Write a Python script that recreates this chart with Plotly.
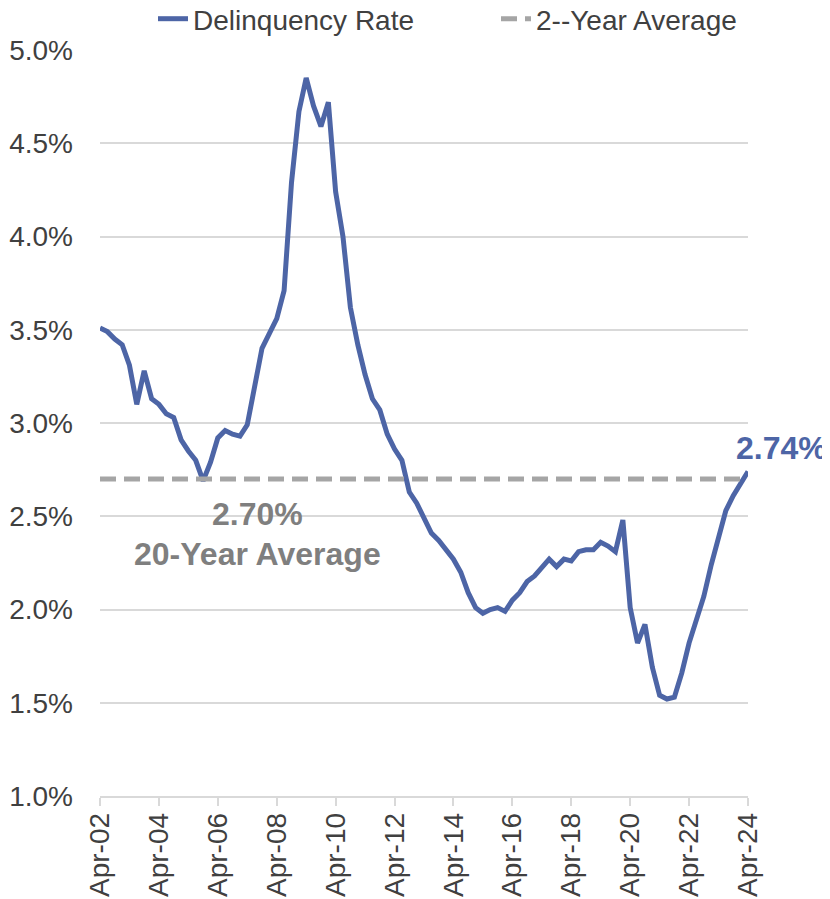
import pandas as pd
import plotly.graph_objects as go

# Quarterly observations, Apr-02 .. Apr-24
quarters = pd.date_range("2002-04-01", periods=89, freq="QS-APR")

delinquency_rate = [
    3.51, 3.49, 3.45, 3.42, 3.31, 3.10, 3.28, 3.13, 3.10, 3.05,
    3.03, 2.91, 2.85, 2.80, 2.69, 2.79, 2.92, 2.96, 2.94, 2.93,
    2.99, 3.20, 3.40, 3.48, 3.56, 3.71, 4.29, 4.67, 4.85, 4.70,
    4.59, 4.72, 4.24, 4.00, 3.62, 3.42, 3.26, 3.13, 3.07, 2.94,
    2.86, 2.80, 2.63, 2.57, 2.49, 2.41, 2.37, 2.32, 2.27, 2.20,
    2.09, 2.01, 1.98, 2.00, 2.01, 1.99, 2.05, 2.09, 2.15, 2.18,
    2.22, 2.27, 2.23, 2.27, 2.26, 2.31, 2.32, 2.32, 2.36, 2.34,
    2.31, 2.48, 2.01, 1.82, 1.92, 1.69, 1.54, 1.52, 1.53, 1.66,
    1.82, 1.94, 2.07, 2.24, 2.39, 2.53, 2.61, 2.68, 2.74,
]

average_value = 2.70
average_x = [quarters[0], quarters[-1]]
average_y = [average_value, average_value]

series_names = ["Delinquency Rate", "2--Year Average"]
avg_label = "2.70%"
avg_caption = "20-Year Average"
last_label = "2.74%"

y_ticks = [1.0, 1.5, 2.0, 2.5, 3.0, 3.5, 4.0, 4.5, 5.0]
y_tick_labels = ["1.0%", "1.5%", "2.0%", "2.5%", "3.0%", "3.5%", "4.0%", "4.5%", "5.0%"]

BLUE = "#4D65A6"
GRAY = "#A5A5A5"
TEXT_GRAY = "#7F7F7F"
LABEL = "#404040"
FONT = "Liberation Sans, Arial, sans-serif"
FS = 28
AFS = 32

# page body has an 8px margin, so the figure is 8px smaller than the window
W, H = 822, 891

fig = go.Figure()
fig.add_trace(go.Scatter(
    x=quarters, y=delinquency_rate, mode="lines", name=series_names[0],
    line=dict(color=BLUE, width=5), legend="legend",
))
fig.add_trace(go.Scatter(
    x=average_x, y=average_y, mode="lines", name=series_names[1],
    line=dict(color=GRAY, width=5, dash="16px,8px"), legend="legend2",
))

fig.add_annotation(x=pd.Timestamp("2007-08-01"), y=2.512, text=f"<b>{avg_label}</b>",
                   showarrow=False, font=dict(size=AFS, color=TEXT_GRAY, family=FONT),
                   xanchor="center", yanchor="middle")
fig.add_annotation(x=pd.Timestamp("2007-08-01"), y=2.298, text=f"<b>{avg_caption}</b>",
                   showarrow=False, font=dict(size=AFS, color=TEXT_GRAY, family=FONT),
                   xanchor="center", yanchor="middle")
fig.add_annotation(x=quarters[-1], y=delinquency_rate[-1], text=f"<b>{last_label}</b>",
                   showarrow=False, font=dict(size=AFS, color=BLUE, family=FONT),
                   xanchor="center", yanchor="middle", xshift=33, yshift=23)

leg_common = dict(orientation="h", xanchor="left", yref="container", yanchor="middle",
                  xref="container", y=1 - 11 / H, font=dict(size=FS, color=LABEL),
                  bgcolor="rgba(0,0,0,0)")
fig.update_layout(
    width=W, height=H,
    margin=dict(l=92, r=82, t=42, b=103, autoexpand=False),
    paper_bgcolor="white", plot_bgcolor="white",
    font=dict(family=FONT, size=FS, color=LABEL),
    legend=dict(leg_common, x=(153 - 8) / W),
    legend2=dict(leg_common, x=(496 - 8) / W),
    showlegend=True,
)
fig.update_xaxes(
    type="date", range=[quarters[0], quarters[-1]], automargin=False,
    tick0=quarters[0], dtick="M24", tickformat="%b-%y", tickangle=-90,
    showgrid=False, showline=True, linecolor="#D9D9D9", linewidth=1.5,
    ticks="outside", ticklen=8, tickcolor="#D9D9D9", tickwidth=1.5,
    tickfont=dict(size=FS, color=LABEL), ticklabelstandoff=-4,
)
fig.update_yaxes(
    range=[1.0, 5.0], tickvals=y_ticks, ticktext=y_tick_labels, automargin=False,
    showgrid=True, gridcolor="#D9D9D9", gridwidth=1.5, zeroline=False,
    showline=False, ticks="", ticklabelstandoff=26,
    tickfont=dict(size=FS, color=LABEL),
)

fig.write_html("out.html")
